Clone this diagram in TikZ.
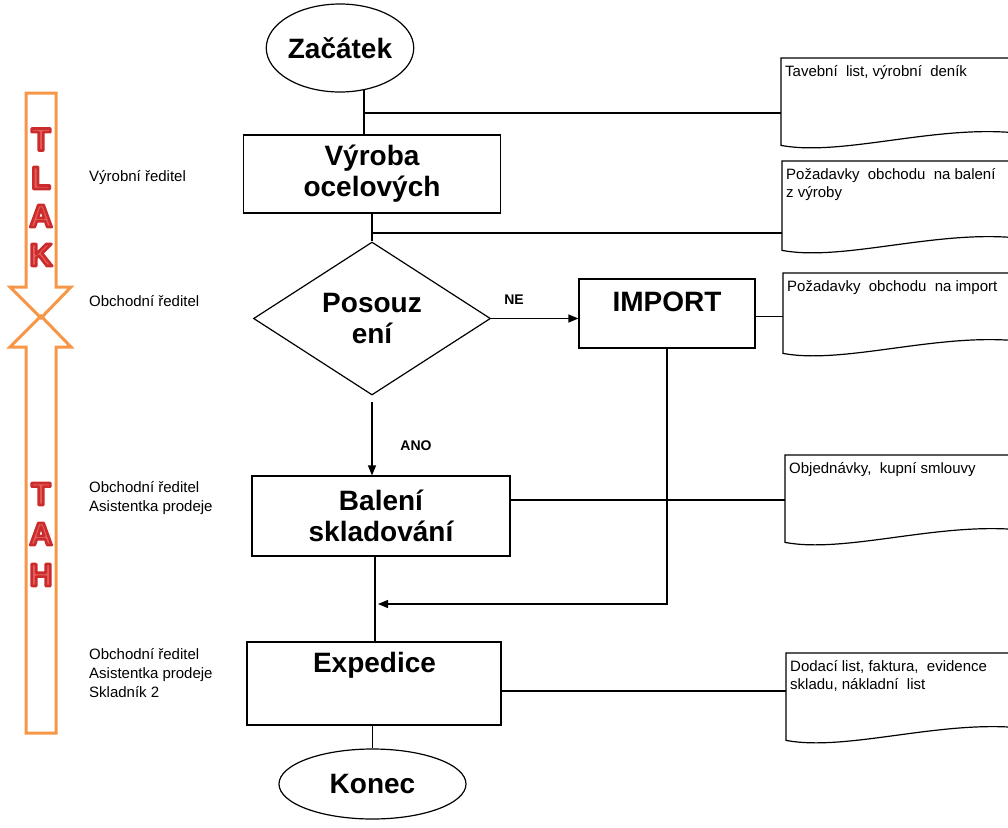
\documentclass[tikz,border=0pt]{standalone}
\usepackage{fontspec}
\setmainfont{Liberation Sans}
\usetikzlibrary{shapes.geometric,arrows.meta,calc}

\definecolor{pushorange}{HTML}{F79646}
\definecolor{wordfill}{HTML}{E35D5D}

% outlined letter: light red fill, dark red stroke (PDF text render mode 2)
\newcommand\outlined[1]{\textcolor{wordfill}{\special{pdf:literal direct 2 Tr 2.6 w 1 j 0.80 0.17 0.17 RG}#1\special{pdf:literal direct 0 Tr}}}

% document symbol: frame with a wavy lower edge, text in the top left corner
\newcommand\docpage[5]{%
  \node[docarea, minimum height={(#4-#3)*1pt}] (#1) at (#2,#3) {};
  \draw[conn] ($(#1.south west)+(229,-13)$) -- (#1.north east) -- (#1.north west) -- (#1.south west)
    .. controls ($(#1.south west)+(59,11)$) and ($(#1.south west)+(149,-19)$) .. ($(#1.south west)+(229,-13)$);
  \node[doctext] (#1-text) at ($(#1.north west)+(4,7)$) {#5};
}

\begin{document}
\begin{tikzpicture}[x=1pt,y=-1pt,
  conn/.style={line width=1.2pt},
  arr/.style={conn, -{Triangle[length=10pt,width=8pt]}},
  heading/.style={font=\bfseries\fontsize{28}{31}\selectfont, align=center, inner sep=0pt},
  procbox/.style={draw, conn, rectangle, inner sep=0pt, heading},
  term/.style={draw, conn, ellipse, inner sep=0pt, heading},
  decision/.style={draw, conn, diamond, aspect=1.55, inner sep=0pt, heading},
  role/.style={font=\fontsize{15}{19}\selectfont, align=left, anchor=west, inner sep=0pt},
  docarea/.style={rectangle, inner sep=0pt, anchor=north west, minimum width=229pt},
  doctext/.style={font=\fontsize{15}{18}\selectfont, align=left, anchor=north west, inner sep=0pt},
  tag/.style={font=\bfseries\fontsize{14}{14}\selectfont, inner sep=0pt},
  push/.style={draw=pushorange, line width=3pt, line join=miter},
  wordart/.style={font=\bfseries\fontsize{32}{32}\selectfont, inner sep=0pt}
]
\useasboundingbox (0,0) rectangle (1008,827);
\clip (0,0) rectangle (1008,827);

% push / pull arrows on the left
\draw[push] (26,93) -- (56,93) -- (56,287) -- (71,287) -- (41,318) -- (10,287) -- (26,287) -- cycle;
\draw[push] (26,733) -- (56,733) -- (56,347) -- (71,347) -- (41,316) -- (10,347) -- (26,347) -- cycle;
\foreach \ch/\yy [count=\i] in {T/139.5,L/178,A/216,K/255}
  \node[wordart] (tlak\i) at (41,\yy) {\outlined{\ch}};
\foreach \ch/\yy [count=\i] in {T/494,A/534,H/575}
  \node[wordart] (tah\i) at (41,\yy) {\outlined{\ch}};

% responsible roles
\node[role] (r1) at (89,178) {Výrobní ředitel};
\node[role] (r2) at (89,301) {Obchodní ředitel};
\node[role] (r3) at (89,498.5) {Obchodní ředitel\\Asistentka prodeje};
\node[role] (r4) at (89,673) {Obchodní ředitel\\Asistentka prodeje\\Skladník 2};

% process steps
\node[term, minimum width=146pt, minimum height=88pt] (zac) at (340,48) {Začátek};
\node[procbox, minimum width=257pt, minimum height=78pt] (vyr) at (372,174) {Výroba\\ocelových};
\node[decision, minimum width=237pt, minimum height=153pt] (dia) at (372,318.5) {Posouz\\ení};
\node[procbox, minimum width=176pt, minimum height=69pt] (imp) at (667,313.5) {};
\node[heading] (imptxt) at (667,302) {IMPORT};
\node[procbox, minimum width=258pt, minimum height=80pt] (bal) at (381,516) {Balení\\skladování};
\node[procbox, minimum width=254pt, minimum height=83pt] (exp) at (374,683.5) {};
\node[heading] (exptxt) at (374.5,665) {Expedice};
\node[term, minimum width=187pt, minimum height=70pt] (kon) at (372.5,784) {Konec};

% documents
\docpage{d1}{781}{58}{145}{Tavební\ \ list, výrobní\ \ deník}
\docpage{d2}{782}{161}{250}{Požadavky\ \ obchodu\ \ na balení\\z výroby}
\docpage{d3}{783}{273}{353}{Požadavky\ \ obchodu\ \ na import}
\docpage{d4}{785}{455}{542}{Objednávky,\ \ kupní smlouvy}
\docpage{d5}{786}{653}{740}{Dodací list, faktura,\ \ evidence\\skladu, nákladní\ \ list}

% flow
\coordinate (j1) at (364,113);
\coordinate (j2) at (372,233);
\coordinate (ret) at (378,604);
\draw[conn] (zac.-60 -| j1) -- (j1 |- vyr.north);
\draw[conn] (j1) -- (j1 -| d1.west);
\draw[conn] (vyr.south) -- (dia.north);
\draw[conn] (j2) -- (j2 -| d2.west);
\draw[arr] (dia.east) -- ([yshift=-5pt]imp.west);
\node[tag] (ne) at (514,300) {NE};
\draw[arr] ([yshift=-6pt]dia.south) -- (dia.south |- bal.north);
\node[tag] (ano) at (416,446) {ANO};
\draw[conn] ([yshift=-3pt]imp.east) -- ([yshift=-3pt]imp.east -| d3.west);
\draw[conn] ([yshift=16pt]bal.east) -- ([yshift=16pt]bal.east -| d4.west);
\draw[conn] ([xshift=-6pt]bal.south) -- ([xshift=-6pt]bal.south |- exp.north);
\draw[arr] (imp.south) |- (ret);
\draw[conn] ([yshift=-7.5pt]exp.east) -- ([yshift=-7.5pt]exp.east -| d5.west);
\draw[conn] (exp.south -| kon.north) -- (kon.north);
\end{tikzpicture}
\end{document}
